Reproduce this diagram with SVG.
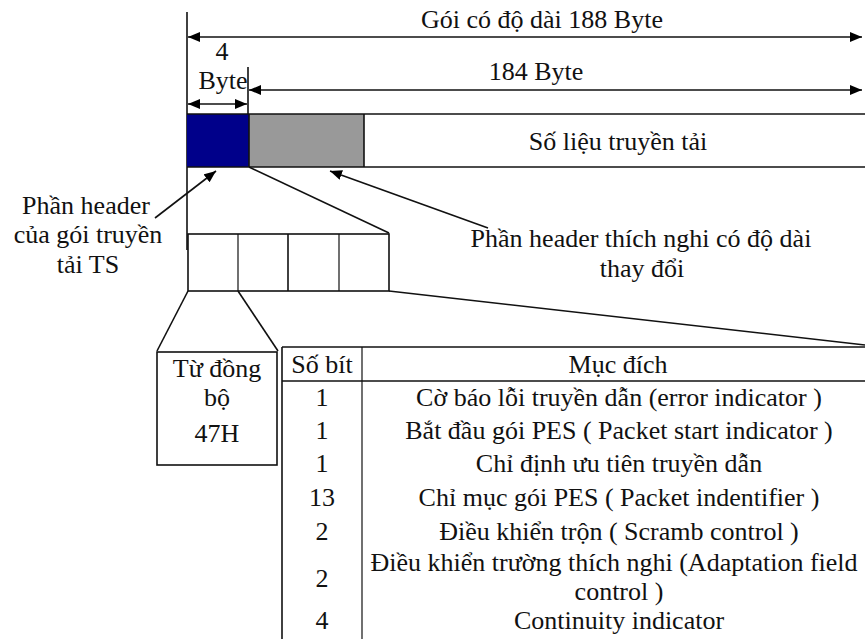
<svg xmlns="http://www.w3.org/2000/svg" width="865" height="639" viewBox="0 0 865 639">
<style>
.c{text-anchor:middle}
.ln{stroke:#111;stroke-width:1.6;fill:none}
.th{stroke:#111;stroke-width:1.2;fill:none}
</style>
<defs>
<marker id="ah" viewBox="0 0 12 10" refX="12" refY="5" markerWidth="12" markerHeight="10" markerUnits="userSpaceOnUse" orient="auto-start-reverse">
<path d="M0,0 L12,5 L0,10 Z" fill="#000"/>
</marker>
</defs>
<rect width="865" height="639" fill="#fff"/>
<g font-family="'Liberation Serif', 'Times New Roman', serif" font-size="26" fill="#111">

<g id="dimensions">
<line class="ln" x1="187" y1="12" x2="187" y2="250"/>
<line class="ln" x1="248" y1="67" x2="248" y2="115"/>
<line class="ln" x1="188" y1="37" x2="862" y2="37" marker-start="url(#ah)" marker-end="url(#ah)"/>
<line class="ln" x1="249" y1="90" x2="862" y2="90" marker-start="url(#ah)" marker-end="url(#ah)"/>
<line class="ln" x1="188" y1="104" x2="247" y2="104" marker-start="url(#ah)" marker-end="url(#ah)"/>
<text class="c" x="542" y="28">Gói có độ dài 188 Byte</text>
<text class="c" x="222" y="60">4</text>
<text class="c" x="223" y="89">Byte</text>
<text class="c" x="536" y="80">184 Byte</text>
</g>

<g id="packet">
<rect x="187" y="114" width="62" height="53" fill="#00008a"/>
<rect x="249" y="114" width="115" height="53" fill="#999"/>
<line class="ln" x1="187" y1="114" x2="865" y2="114"/>
<line class="ln" x1="187" y1="167" x2="865" y2="167"/>
<line class="ln" x1="249" y1="114" x2="249" y2="167"/>
<line class="ln" x1="364" y1="114" x2="364" y2="167"/>
<text class="c" x="618" y="150">Số liệu truyền tải</text>
</g>

<g id="label-ts-header">
<text class="c" x="86" y="214">Phần header</text>
<text class="c" x="88" y="243">của gói truyền</text>
<text class="c" x="88" y="273">tải TS</text>
</g>

<g id="label-adaptation">
<text class="c" x="641" y="247">Phần header thích nghi có độ dài</text>
<text class="c" x="642" y="277">thay đổi</text>
</g>

<g id="header-bytes">
<rect class="ln" x="188" y="234" width="201" height="57"/>
<line class="th" x1="238" y1="234" x2="238" y2="291"/>
<line class="ln" x1="288" y1="234" x2="288" y2="291"/>
<line class="th" x1="339" y1="234" x2="339" y2="291"/>
</g>

<g id="sync-byte">
<rect class="ln" x="157" y="352" width="120" height="113"/>
<text class="c" x="217" y="377">Từ đồng</text>
<text class="c" x="217" y="406">bộ</text>
<text class="c" x="217" y="442">47H</text>
</g>

<g id="table">
<line class="ln" x1="282" y1="347" x2="865" y2="347"/>
<line class="ln" x1="282" y1="347" x2="282" y2="639"/>
<line class="th" x1="362" y1="347" x2="362" y2="639"/>
<line class="ln" x1="282" y1="381" x2="865" y2="381" stroke-width="2"/>
<text class="c" x="322" y="373">Số bít</text>
<text class="c" x="618" y="373">Mục đích</text>
<text class="c" x="322" y="406">1</text>
<text class="c" x="322" y="439">1</text>
<text class="c" x="322" y="472">1</text>
<text class="c" x="322" y="506">13</text>
<text class="c" x="322" y="540">2</text>
<text class="c" x="322" y="587">2</text>
<text class="c" x="322" y="629">4</text>
<text class="c" x="619" y="406">Cờ báo lỗi truyền dẫn (error indicator )</text>
<text class="c" x="619" y="439">Bắt đầu gói PES ( Packet start indicator )</text>
<text class="c" x="619" y="472">Chỉ định ưu tiên truyền dẫn</text>
<text class="c" x="619" y="506">Chỉ mục gói PES ( Packet indentifier )</text>
<text class="c" x="619" y="540">Điều khiển trộn ( Scramb control )</text>
<text class="c" x="614" y="571">Điều khiển trường thích nghi (Adaptation field</text>
<text class="c" x="619" y="600">control )</text>
<text class="c" x="619" y="629">Continuity indicator</text>
</g>

<g id="connectors">
<line class="ln" x1="155" y1="218" x2="216" y2="171" marker-end="url(#ah)"/>
<line class="ln" x1="488" y1="228" x2="330" y2="171" marker-end="url(#ah)"/>
<line class="ln" x1="249" y1="167" x2="389" y2="233"/>
<line class="ln" x1="389" y1="291" x2="865" y2="345"/>
<line class="ln" x1="188" y1="291" x2="157" y2="351"/>
<line class="ln" x1="238" y1="291" x2="278" y2="351"/>
</g>
</g>
</svg>
